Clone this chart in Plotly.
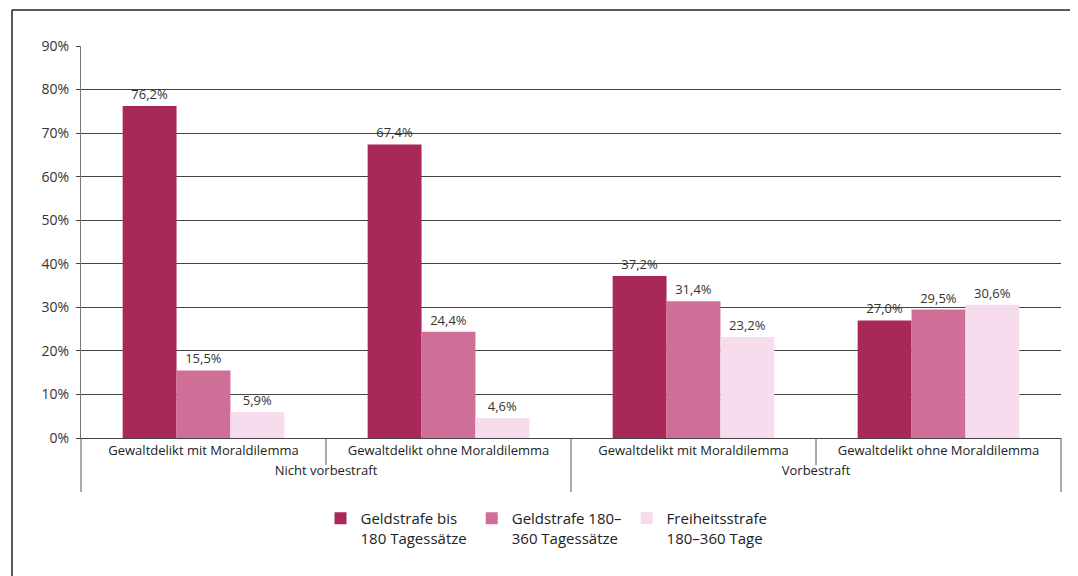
import plotly.graph_objects as go

groups = ["Nicht vorbestraft", "Nicht vorbestraft", "Vorbestraft", "Vorbestraft"]
subgroups = ["Gewaltdelikt mit Moraldilemma", "Gewaltdelikt ohne Moraldilemma",
             "Gewaltdelikt mit Moraldilemma", "Gewaltdelikt ohne Moraldilemma"]
series_names = ["Geldstrafe bis<br>180 Tagessätze",
                "Geldstrafe 180–<br>360 Tagessätze",
                "Freiheitsstrafe<br>180–360 Tage"]
geld_bis_180 = [76.2, 67.4, 37.2, 27.0]
geld_180_360 = [15.5, 24.4, 31.4, 29.5]
frei_180_360 = [5.9, 4.6, 23.2, 30.6]
y_ticks = [0, 10, 20, 30, 40, 50, 60, 70, 80, 90]

colors = ["#a8285a", "#cf6f98", "#f6dcec"]
font = "Open Sans"

fig = go.Figure()
for name, vals, col in zip(series_names, [geld_bis_180, geld_180_360, frei_180_360], colors):
    fig.add_trace(go.Bar(
        x=[groups, subgroups], y=vals, name=name,
        marker=dict(color=col, line=dict(width=0)),
        texttemplate="%{y:.1f}%", textposition="outside",
        textfont=dict(family=font, size=13, color="#333333"),
        cliponaxis=False,
    ))

# page body adds 8px offset; compensate
fig.update_layout(
    barmode="group", bargap=0.34, bargroupgap=0,
    separators=",.",
    width=1070, height=568,
    margin=dict(l=73, r=17, t=38, b=138, autoexpand=False),
    paper_bgcolor="white", plot_bgcolor="white",
    font=dict(family=font, size=13, color="#222222"),
    showlegend=True,
    legend=dict(orientation="h", x=0.475, xanchor="center", y=-0.163, yanchor="top",
                valign="top",
                font=dict(family=font, size=15, color="#222222"),
                itemwidth=30, traceorder="normal"),
    yaxis=dict(range=[0, 90], tickvals=y_ticks, ticktext=[f"{v}%" for v in y_ticks],
               showgrid=True, gridcolor="#444444", gridwidth=1.3,
               ticks="outside", ticklen=4, tickcolor="#444444",
               ticklabelstandoff=4,
               showline=True, linecolor="#777777", linewidth=1,
               zeroline=False, tickfont=dict(size=14, color="#333333")),
    xaxis=dict(type="multicategory", showline=True, linecolor="#444444", linewidth=1.3,
               showdividers=False,
               tickfont=dict(size=13, color="#222222")),
)

# category dividers
for xp, depth in [(0, 54), (0.5, 54), (1, 54), (0.25, 27), (0.75, 27)]:
    fig.add_shape(type="line", xref="paper", yref="paper", x0=xp, x1=xp,
                  y0=0, y1=-depth / 392, line=dict(color="#555555", width=1))

# outer frame (top and left edges)
fig.add_shape(type="line", xref="paper", yref="paper", x0=-0.0704, x1=-0.0704,
              y0=-0.40, y1=1.092, line=dict(color="#222222", width=1.5))
fig.add_shape(type="line", xref="paper", yref="paper", x0=-0.0704, x1=1.05,
              y0=1.092, y1=1.092, line=dict(color="#222222", width=1.5))

fig.write_html("out.html")
